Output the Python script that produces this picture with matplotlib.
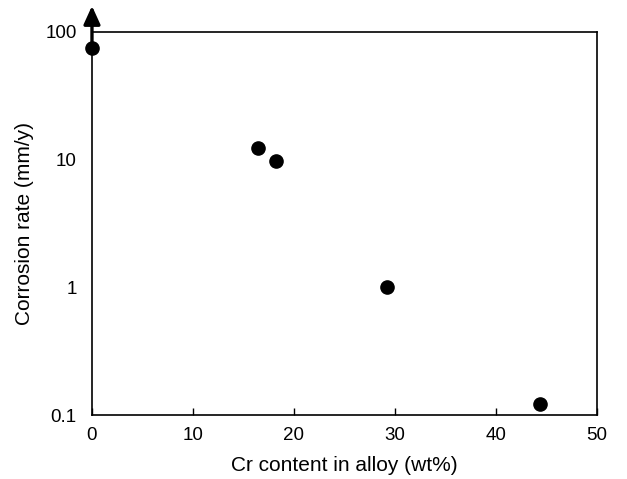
import matplotlib
matplotlib.use("Agg")
import matplotlib.pyplot as plt
from matplotlib.ticker import FixedLocator, NullLocator

plt.rcParams['font.family'] = ['Liberation Sans', 'DejaVu Sans']

# data
cr_content = [0.0, 16.4, 18.2, 29.2, 44.4]
corrosion_rate = [75, 12.4, 9.8, 1.0, 0.122]

y_ticks = [0.1, 1, 10, 100]
y_tick_labels = ["0.1", "1", "10", "100"]
x_ticks = [0, 10, 20, 30, 40, 50]

fig = plt.figure(figsize=(6.27, 4.79), dpi=100)
ax = fig.add_axes([0.1467, 0.1336, 0.8053, 0.7996])

ax.set_yscale("log")
ax.set_xlim(0, 50)
ax.set_ylim(0.1, 100)

ax.plot(cr_content, corrosion_rate, "o", color="black",
        markersize=9.5, clip_on=False, zorder=5)

# arrow: first point is off-scale (>100)
ax.annotate("", xy=(cr_content[0], 160), xytext=(cr_content[0], corrosion_rate[0]),
            arrowprops=dict(arrowstyle="-|>,head_length=1.1,head_width=0.5",
                            color="black", lw=2.4, shrinkA=0, shrinkB=0),
            annotation_clip=False, zorder=6)

ax.xaxis.set_major_locator(FixedLocator(x_ticks))
ax.yaxis.set_major_locator(FixedLocator(y_ticks))
ax.yaxis.set_minor_locator(NullLocator())
ax.set_yticklabels(y_tick_labels)

ax.tick_params(axis="x", direction="in", length=5, width=1, labelsize=13.5, pad=8.5)
ax.tick_params(axis="y", length=0, labelsize=13.5, pad=11)

for s in ax.spines.values():
    s.set_linewidth(1.2)

ax.set_xlabel("Cr content in alloy (wt%)", fontsize=15, labelpad=9)
ax.set_ylabel("Corrosion rate (mm/y)", fontsize=15, labelpad=8)

fig.savefig("out.png", dpi=100)
